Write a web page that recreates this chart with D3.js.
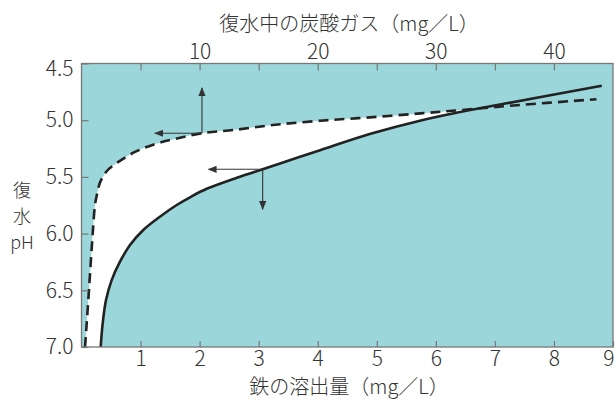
<!DOCTYPE html>
<html lang="ja">
<head>
<meta charset="UTF-8">
<title>復水pHと鉄の溶出量</title>
<script src="https://d3js.org/d3.v7.min.js"></script>
<style>
    body { margin: 0; background: #fff; }
    svg text { fill: #333; font-family: "Noto Sans CJK JP", sans-serif; font-weight: 300; }
    .num { font-size: 21px; }
    .jp { font-size: 20px; }
    .ytitle { font-size: 18px; }
</style>
</head>
<body>
<svg id="chart" width="616" height="401"></svg>
<script>
// 鉄の溶出量 (mg/L) vs pH -- solid curve, bottom axis
const ironCurve = [
    [0.325, 7.0], [0.359, 6.79], [0.415, 6.586], [0.511, 6.41], [0.652, 6.248],
    [0.821, 6.10], [1.046, 5.968], [1.327, 5.851], [1.612, 5.748], [1.837, 5.68],
    [2.12, 5.605], [2.684, 5.498], [3.068, 5.433], [3.70, 5.322], [4.04, 5.265],
    [4.88, 5.122], [5.73, 5.004], [6.58, 4.91], [7.20, 4.851], [8.81, 4.696]
];
// 炭酸ガス (mg/L) vs pH -- dashed curve, top axis
const co2Curve = [
    [0.30, 7.0], [0.58, 6.58], [0.78, 6.26], [0.95, 6.0], [1.14, 5.75],
    [1.30, 5.66], [1.57, 5.55], [2.13, 5.45], [3.09, 5.37], [4.53, 5.28],
    [6.22, 5.21], [7.92, 5.165], [10.2, 5.115], [13.0, 5.085], [16.4, 5.04],
    [20.2, 5.005], [24.4, 4.975], [28.7, 4.94], [32.2, 4.91], [36.0, 4.875],
    [43.6, 4.815]
];
// reading arrows
const co2Arrows = [
    { from: [10.2, 5.115], to: [10.2, 4.716] },
    { from: [10.2, 5.115], to: [6.22, 5.115] }
];
const ironArrows = [
    { from: [3.068, 5.433], to: [2.15, 5.433] },
    { from: [3.068, 5.433], to: [3.068, 5.785] }
];
const bottomTicks = [1, 2, 3, 4, 5, 6, 7, 8, 9];
const topTicks = [5, 10, 15, 20, 25, 30, 35, 40];
const pHTicks = [4.5, 5.0, 5.5, 6.0, 6.5, 7.0];

const pLeft = 81.5, pRight = 613, pTop = 63.5, pBottom = 347;
const teal = "#9bd6da", gray = "#777";

const svg = d3.select("#chart");
const x = d3.scaleLinear().domain([0, 9]).range([pLeft, pRight]);
const xTop = d3.scaleLinear().domain([0, 45]).range([pLeft, pRight]);
const y = d3.scaleLinear().domain([4.5, 7.0]).range([pTop, pBottom]);

// background
svg.append("rect")
    .attr("x", pLeft).attr("y", pTop)
    .attr("width", pRight - pLeft).attr("height", pBottom - pTop)
    .attr("fill", teal);

// white band between dashed (CO2) and solid (iron) curves
const ironPts = ironCurve.map(d => [x(d[0]), y(d[1])]);
const co2Pts = co2Curve.map(d => [xTop(d[0]), y(d[1])]);
const smooth = d3.line().curve(d3.curveCatmullRom.alpha(0.5));

const lastIron = ironPts[ironPts.length - 1];
const aboveSolid = smooth(ironPts) +
    `L${pRight},${lastIron[1]}L${pRight},${pTop}L${pLeft},${pTop}L${pLeft},${pBottom}Z`;
const lastCo2 = co2Pts[co2Pts.length - 1];
const belowDashed = smooth(co2Pts) +
    `L${pRight},${lastCo2[1]}L${pRight},${pBottom}Z`;

svg.append("clipPath").attr("id", "aboveSolid")
    .append("path").attr("d", aboveSolid);
svg.append("path")
    .attr("d", belowDashed)
    .attr("fill", "#fff")
    .attr("clip-path", "url(#aboveSolid)");

// curves
svg.append("path")
    .attr("d", smooth(ironPts))
    .attr("fill", "none").attr("stroke", "#222").attr("stroke-width", 2.6);
svg.append("path")
    .attr("d", smooth(co2Pts))
    .attr("fill", "none").attr("stroke", "#222").attr("stroke-width", 2.6)
    .attr("stroke-dasharray", "10,6");

// arrows
svg.append("defs").append("marker")
    .attr("id", "head").attr("viewBox", "0 0 10 10")
    .attr("refX", 9).attr("refY", 5)
    .attr("markerWidth", 9).attr("markerHeight", 9)
    .attr("markerUnits", "userSpaceOnUse")
    .attr("orient", "auto")
    .append("path").attr("d", "M0,1L10,5L0,9Z").attr("fill", "#333");

function drawArrows(list, sx) {
    list.forEach(a => {
        svg.append("line")
            .attr("x1", sx(a.from[0])).attr("y1", y(a.from[1]))
            .attr("x2", sx(a.to[0])).attr("y2", y(a.to[1]))
            .attr("stroke", "#333").attr("stroke-width", 1.1)
            .attr("marker-end", "url(#head)");
    });
}
drawArrows(co2Arrows, xTop);
drawArrows(ironArrows, x);

// frame
svg.append("rect")
    .attr("x", pLeft).attr("y", pTop)
    .attr("width", pRight - pLeft).attr("height", pBottom - pTop)
    .attr("fill", "none").attr("stroke", gray).attr("stroke-width", 1.3);

// axes
const gB = svg.append("g").attr("class", "num")
    .attr("transform", `translate(0,${pBottom})`)
    .call(d3.axisBottom(x).tickValues(bottomTicks).tickSizeInner(-6).tickSizeOuter(0).tickPadding(4));
const gT = svg.append("g").attr("class", "num")
    .attr("transform", `translate(0,${pTop})`)
    .call(d3.axisTop(xTop).tickValues(topTicks).tickSizeInner(-7).tickSizeOuter(0).tickPadding(5)
        .tickFormat(d => d % 10 === 0 ? d : ""));
const gL = svg.append("g").attr("class", "num")
    .attr("transform", `translate(${pLeft},0)`)
    .call(d3.axisLeft(y).tickValues(pHTicks).tickSizeInner(-7).tickSizeOuter(0).tickPadding(8)
        .tickFormat(d3.format(".1f")));

[gB, gT, gL].forEach(g => {
    g.select(".domain").remove();
    g.selectAll("line").attr("stroke", gray).attr("stroke-width", 1.2);
    g.selectAll("text").attr("fill", "#333");
    g.attr("font-family", null).attr("font-size", null);
});
gL.selectAll(".tick").filter(d => d === 4.5).select("text").attr("dy", "0.55em");
gB.selectAll(".tick").filter(d => d === 9).select("text").attr("text-anchor", "end").attr("dx", "0.05em");

// titles
svg.append("text").attr("class", "jp")
    .attr("x", 349).attr("y", 31).attr("text-anchor", "middle")
    .text("復水中の炭酸ガス（mg／L）");
svg.append("text").attr("class", "jp")
    .attr("x", 349).attr("y", 394).attr("text-anchor", "middle")
    .text("鉄の溶出量（mg／L）");
[["復", 197], ["水", 223], ["pH", 249]].forEach(([t, yy]) => {
    svg.append("text").attr("class", "ytitle")
        .attr("x", 22).attr("y", yy).attr("text-anchor", "middle")
        .text(t);
});
</script>
</body>
</html>
